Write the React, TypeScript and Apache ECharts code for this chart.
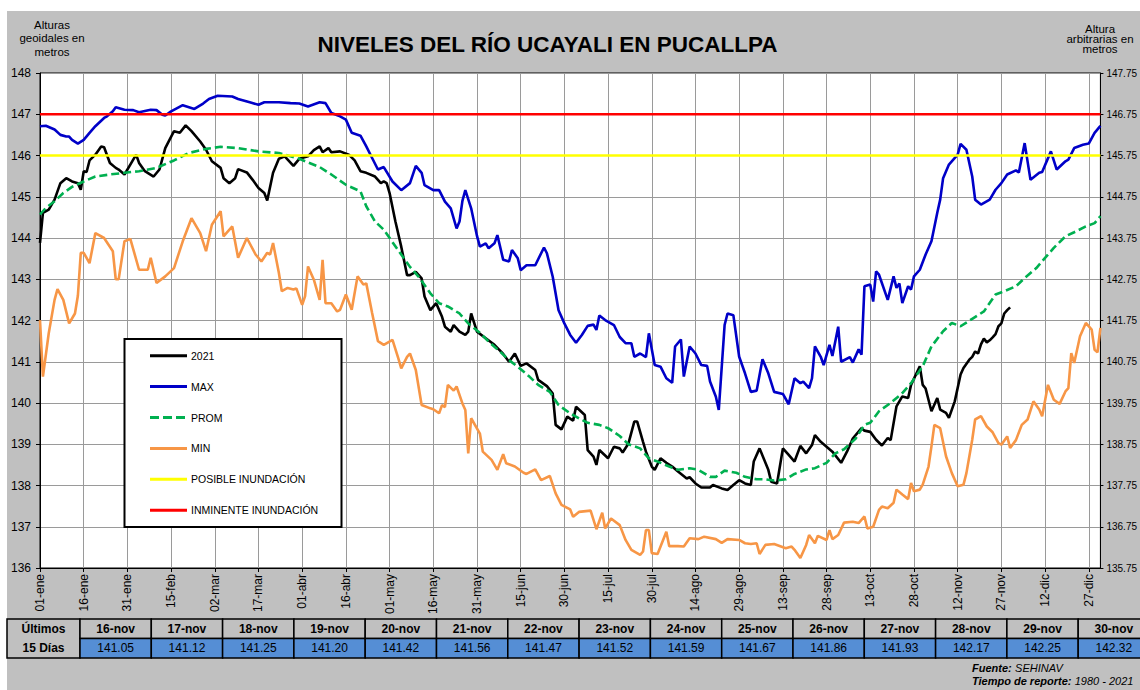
import React, { useEffect, useRef } from "react";
import * as echarts from "echarts";

const FONT = "Arial, 'Liberation Sans', sans-serif";
const MONTHS = ["ene", "feb", "mar", "abr", "may", "jun", "jul", "ago", "sep", "oct", "nov", "dic"];
const YEAR = 2021;
const Y_MIN = 136;
const Y_MAX = 148;
const RIGHT_AXIS_OFFSET = 0.25;
const X_MAX_DAY = 364;
const X_STEP = 15;
const POSIBLE_INUNDACION = 146;
const INMINENTE_INUNDACION = 147;

// [day of year (0 = 01-ene), level]
const serie2021Early: [number, number][] = [
  [0, 143.88], [1, 144.61], [3, 144.69], [5, 144.93], [7, 145.33], [9, 145.45], [11, 145.37], [13, 145.33], [14, 145.17],
  [15, 145.62], [16, 145.6], [17, 145.88], [19, 146.02], [21, 146.22], [22, 146.2], [24, 145.82], [26, 145.7], [27, 145.66],
  [29, 145.54], [31, 145.78], [33, 146.02], [34, 145.82], [36, 145.62], [39, 145.49], [41, 145.66], [43, 146.18], [46, 146.59],
  [48, 146.55], [50, 146.73], [52, 146.59], [55, 146.34], [57, 146.14], [59, 145.86], [62, 145.7], [63, 145.45], [65, 145.33],
  [67, 145.45], [68, 145.67], [71, 145.59], [73, 145.41], [75, 145.21], [77, 145.09], [78, 144.91], [80, 145.58], [82, 145.92],
  [84, 145.98], [87, 145.75], [89, 145.92], [92, 145.98], [94, 146.13], [96, 146.22], [97, 146.08], [99, 146.18], [100, 146.08],
  [103, 146.1], [106, 146.02], [108, 145.88], [110, 145.62], [112, 145.58], [115, 145.49], [117, 145.33], [118, 145.37],
  [119, 145.33], [120, 145.09], [122, 144.4], [124, 143.79], [126, 143.1], [127, 143.1], [129, 143.18], [131, 143.02],
  [132, 142.58], [134, 142.25], [136, 142.42], [138, 142.09], [139, 141.85], [141, 141.73], [142, 141.89], [144, 141.73],
  [146, 141.65], [147, 141.73], [148, 142.17], [150, 141.73], [153, 141.57], [156, 141.41], [159, 141.19], [161, 141.0],
  [163, 141.2], [165, 140.9], [167, 140.96], [170, 140.8], [171, 140.56], [174, 140.41], [176, 140.23], [177, 139.47],
  [179, 139.36], [181, 139.67], [183, 139.57], [184, 139.91], [187, 139.71], [188, 138.86], [190, 138.7], [191, 138.5],
  [192, 138.86], [195, 138.66], [197, 138.94], [199, 138.9], [200, 138.8], [202, 139.02], [204, 139.55], [205, 139.55],
  [207, 139.06], [208, 138.82], [210, 138.46], [211, 138.38], [213, 138.66], [215, 138.55], [217, 138.46], [219, 138.34],
  [222, 138.17], [223, 138.2], [225, 138.05], [227, 137.95], [230, 137.95], [231, 138.01], [234, 137.93], [236, 137.89],
  [238, 138.01], [240, 138.13], [242, 138.05], [244, 138.01], [245, 138.58], [247, 138.9], [250, 138.38], [251, 138.09],
  [253, 138.05], [255, 138.9], [257, 138.74], [259, 138.58], [261, 138.96], [263, 138.78], [265, 138.98], [266, 139.22],
  [268, 139.06], [272, 138.82], [275, 138.55], [277, 138.82], [279, 139.14], [282, 139.39], [283, 139.33], [285, 139.3],
  [287, 139.11], [289, 138.97], [291, 139.15], [292, 139.1], [294, 139.92], [296, 140.16], [298, 140.12], [299, 140.44],
  [302, 140.89], [303, 140.44], [304, 140.35], [306, 139.8], [308, 140.12], [309, 139.84], [311, 139.76], [312, 139.64],
  [314, 140.04], [316, 140.69], [317, 140.85],
];

const last15Labels = ["16-nov", "17-nov", "18-nov", "19-nov", "20-nov", "21-nov", "22-nov", "23-nov", "24-nov", "25-nov", "26-nov", "27-nov", "28-nov", "29-nov", "30-nov"];
const last15Values = [141.05, 141.12, 141.25, 141.2, 141.42, 141.56, 141.47, 141.52, 141.59, 141.67, 141.86, 141.93, 142.17, 142.25, 142.32];
const LAST15_FIRST_DAY = 319;

const serieMax: [number, number][] = [
  [0, 146.71], [2, 146.72], [5, 146.63], [7, 146.5], [9, 146.46], [10, 146.46], [11, 146.38], [13, 146.29], [15, 146.38],
  [17, 146.55], [19, 146.71], [22, 146.91], [23, 146.95], [25, 147.07], [26, 147.17], [29, 147.11], [32, 147.1], [34, 147.05],
  [38, 147.11], [40, 147.1], [42, 146.99], [43, 146.97], [45, 147.07], [49, 147.22], [53, 147.13], [56, 147.26], [58, 147.37],
  [61, 147.45], [66, 147.43], [68, 147.37], [72, 147.29], [75, 147.23], [77, 147.29], [82, 147.29], [86, 147.27], [89, 147.26],
  [92, 147.19], [96, 147.29], [98, 147.27], [100, 147.03], [103, 146.95], [105, 146.87], [107, 146.55], [110, 146.48],
  [112, 146.22], [114, 145.94], [116, 145.66], [118, 145.72], [121, 145.37], [124, 145.16], [127, 145.33], [129, 145.75],
  [131, 145.58], [132, 145.28], [135, 145.16], [137, 145.16], [139, 144.88], [141, 144.72], [143, 144.23], [144, 144.4],
  [145, 144.9], [146, 145.16], [148, 144.72], [150, 144.05], [151, 143.79], [153, 143.87], [154, 143.75], [156, 143.87],
  [157, 144.07], [159, 143.47], [161, 143.43], [162, 143.71], [164, 143.51], [165, 143.22], [167, 143.34], [170, 143.34],
  [173, 143.77], [174, 143.63], [176, 143.06], [178, 142.25], [180, 141.93], [182, 141.65], [184, 141.46], [186, 141.65],
  [188, 141.87], [190, 141.9], [191, 141.77], [192, 142.12], [194, 142.01], [197, 141.89], [199, 141.6], [201, 141.45],
  [203, 141.45], [204, 141.12], [206, 141.2], [208, 141.11], [209, 141.69], [211, 140.92], [213, 140.88], [215, 140.6],
  [217, 140.49], [218, 141.37], [220, 141.54], [221, 140.64], [223, 141.37], [225, 141.2], [227, 140.92], [229, 140.9],
  [230, 140.52], [232, 140.15], [233, 139.83], [235, 141.89], [236, 142.17], [238, 142.13], [240, 141.12], [242, 140.72],
  [244, 140.27], [246, 140.3], [248, 141.06], [250, 140.72], [252, 140.27], [255, 140.22], [257, 139.97], [259, 140.6],
  [261, 140.48], [262, 140.52], [264, 140.36], [265, 140.6], [266, 141.37], [268, 141.12], [269, 140.92], [271, 141.41],
  [272, 141.14], [274, 141.85], [275, 141.0], [278, 141.11], [279, 140.98], [281, 141.3], [282, 141.17], [283, 142.83],
  [285, 142.87], [286, 142.46], [287, 143.19], [288, 143.11], [291, 142.5], [293, 143.07], [294, 142.79], [295, 142.9],
  [296, 142.42], [298, 142.83], [299, 142.75], [300, 143.07], [302, 143.23], [304, 143.6], [306, 143.92], [308, 144.61],
  [309, 144.93], [310, 145.45], [312, 145.78], [315, 146.02], [316, 146.28], [318, 146.14], [320, 145.49], [321, 144.93],
  [323, 144.81], [326, 144.93], [328, 145.17], [330, 145.33], [332, 145.54], [335, 145.64], [336, 145.59], [338, 146.3],
  [340, 145.41], [343, 145.58], [344, 145.6], [347, 146.1], [349, 145.66], [352, 145.86], [353, 145.9], [355, 146.18],
  [358, 146.26], [360, 146.29], [362, 146.55], [364, 146.72],
];

const serieProm: [number, number][] = [
  [0, 144.57], [2, 144.73], [5, 144.89], [8, 145.09], [11, 145.24], [15, 145.37], [19, 145.49], [24, 145.54], [29, 145.58],
  [34, 145.62], [40, 145.7], [46, 145.88], [51, 146.06], [57, 146.16], [62, 146.21], [68, 146.18], [75, 146.1], [82, 146.06],
  [89, 145.92], [96, 145.72], [100, 145.54], [105, 145.29], [110, 145.13], [112, 144.77], [115, 144.4], [118, 144.2],
  [123, 143.7], [127, 143.3], [130, 143.06], [134, 142.66], [137, 142.42], [140, 142.34], [144, 142.17], [147, 141.93],
  [151, 141.7], [154, 141.49], [158, 141.24], [161, 141.04], [164, 140.88], [168, 140.64], [171, 140.44], [175, 140.27],
  [178, 139.95], [182, 139.75], [185, 139.63], [188, 139.52], [192, 139.47], [195, 139.39], [199, 139.2], [202, 139.0],
  [206, 138.9], [209, 138.66], [212, 138.58], [216, 138.46], [219, 138.38], [223, 138.42], [226, 138.38], [230, 138.21],
  [232, 138.21], [235, 138.36], [239, 138.31], [242, 138.21], [246, 138.15], [249, 138.15], [252, 138.12], [256, 138.15],
  [259, 138.28], [263, 138.39], [266, 138.42], [270, 138.55], [273, 138.78], [276, 138.88], [280, 139.14], [283, 139.47],
  [285, 139.52], [288, 139.8], [292, 140.0], [296, 140.24], [299, 140.48], [303, 140.89], [306, 141.37], [310, 141.74],
  [313, 141.94], [316, 141.86], [320, 142.04], [324, 142.22], [328, 142.63], [331, 142.71], [335, 142.83], [338, 143.03],
  [342, 143.27], [345, 143.52], [348, 143.76], [352, 144.04], [355, 144.14], [359, 144.28], [362, 144.36], [364, 144.53],
];

const serieMin: [number, number][] = [
  [0, 142.01], [1, 140.64], [3, 141.69], [5, 142.5], [6, 142.76], [8, 142.5], [10, 141.93], [12, 142.17], [13, 142.6],
  [14, 143.64], [15, 143.64], [17, 143.39], [19, 144.12], [22, 144.0], [25, 143.68], [26, 143.0], [27, 143.0], [29, 143.92],
  [31, 143.98], [34, 143.23], [37, 143.23], [38, 143.52], [40, 142.91], [43, 143.07], [46, 143.27], [49, 143.92], [52, 144.48],
  [55, 144.12], [57, 143.68], [59, 144.32], [62, 144.65], [63, 144.04], [66, 144.28], [68, 143.52], [71, 144.0], [74, 143.6],
  [76, 143.43], [78, 143.64], [79, 143.6], [80, 143.88], [82, 143.15], [83, 142.71], [85, 142.79], [87, 142.75], [88, 142.78],
  [90, 142.38], [91, 142.59], [92, 143.31], [94, 142.99], [96, 142.5], [97, 143.47], [98, 142.42], [100, 142.42], [102, 142.22],
  [103, 142.26], [105, 142.63], [107, 142.26], [109, 143.07], [111, 142.87], [112, 142.9], [114, 142.18], [116, 141.5],
  [118, 141.41], [121, 141.53], [123, 141.08], [124, 140.84], [126, 141.12], [127, 141.2], [129, 140.8], [131, 139.95],
  [134, 139.87], [135, 139.85], [137, 139.75], [138, 139.95], [139, 139.9], [140, 140.44], [142, 140.3], [143, 140.4],
  [145, 139.99], [146, 139.83], [147, 138.78], [148, 139.63], [151, 139.26], [152, 138.82], [155, 138.62], [157, 138.38],
  [159, 138.76], [160, 138.54], [163, 138.46], [166, 138.31], [167, 138.28], [170, 138.39], [172, 138.13], [175, 138.23],
  [177, 137.81], [179, 137.53], [182, 137.42], [183, 137.24], [185, 137.36], [189, 137.39], [191, 136.94], [193, 137.34],
  [194, 136.96], [196, 137.2], [199, 137.04], [201, 136.68], [203, 136.44], [206, 136.32], [207, 136.4], [208, 136.92],
  [209, 136.92], [210, 136.36], [212, 136.34], [215, 136.88], [216, 136.53], [219, 136.53], [221, 136.52], [223, 136.72],
  [226, 136.7], [228, 136.76], [232, 136.7], [234, 136.61], [236, 136.7], [240, 136.68], [242, 136.6], [244, 136.58],
  [246, 136.6], [247, 136.34], [249, 136.56], [252, 136.58], [256, 136.48], [258, 136.52], [259, 136.44], [261, 136.24],
  [263, 136.56], [264, 136.8], [266, 136.6], [267, 136.78], [270, 136.68], [271, 136.92], [272, 136.7], [274, 136.8],
  [276, 137.1], [279, 137.12], [281, 137.09], [283, 137.25], [284, 136.96], [286, 137.0], [288, 137.41], [289, 137.49],
  [291, 137.45], [293, 137.58], [294, 137.9], [296, 137.78], [298, 137.67], [299, 138.06], [300, 137.86], [302, 137.9],
  [303, 138.02], [305, 138.46], [306, 138.95], [307, 139.47], [309, 139.39], [311, 138.71], [313, 138.3], [315, 137.98],
  [317, 138.02], [318, 138.3], [320, 139.11], [321, 139.6], [323, 139.68], [325, 139.43], [327, 139.29], [329, 139.03],
  [330, 138.99], [332, 139.19], [333, 138.91], [335, 139.1], [337, 139.47], [339, 139.6], [341, 140.04], [343, 139.84],
  [344, 139.68], [346, 140.44], [348, 140.08], [350, 139.98], [352, 140.28], [353, 140.36], [354, 141.21], [355, 140.97],
  [357, 141.62], [359, 141.94], [361, 141.78], [362, 141.29], [363, 141.23], [364, 141.82],
];

const SERIES_NAMES = ["2021", "MAX", "PROM", "MIN", "POSIBLE INUNDACIÓN", "INMINENTE INUNDACIÓN"];
const SERIES_COLORS = ["#000000", "#0000C8", "#00B050", "#F79646", "#FFFF00", "#FF0000"];

function dayLabel(v: number): string {
  const d = new Date(Date.UTC(YEAR, 0, 1 + Math.round(v)));
  return String(d.getUTCDate()).padStart(2, "0") + "-" + MONTHS[d.getUTCMonth()];
}

function buildTable(): any[] {
  const els: any[] = [];
  const top = 619;
  const rowH = 19.5;
  const firstX = 7;
  const firstW = 73;
  const colW = 71.3;
  const stroke = { stroke: "#000", lineWidth: 1.5 };
  els.push({ type: "rect", shape: { x: firstX, y: top, width: firstW, height: rowH * 2 }, style: { fill: "#C0C0C0", ...stroke } });
  els.push({ type: "text", x: firstX + firstW / 2, y: top + rowH / 2, style: { text: "Últimos", fill: "#000", font: `bold 12px ${FONT}`, textAlign: "center", textVerticalAlign: "middle" } });
  els.push({ type: "text", x: firstX + firstW / 2, y: top + rowH * 1.5, style: { text: "15 Días", fill: "#000", font: `bold 12px ${FONT}`, textAlign: "center", textVerticalAlign: "middle" } });
  last15Labels.forEach((lab, i) => {
    const x = firstX + firstW + i * colW;
    els.push({ type: "rect", shape: { x, y: top, width: colW, height: rowH }, style: { fill: "#C0C0C0", ...stroke } });
    els.push({ type: "rect", shape: { x, y: top + rowH, width: colW, height: rowH }, style: { fill: "#558ED5", ...stroke } });
    els.push({ type: "text", x: x + colW / 2, y: top + rowH / 2, style: { text: lab, fill: "#000", font: `bold 12px ${FONT}`, textAlign: "center", textVerticalAlign: "middle" } });
    els.push({ type: "text", x: x + colW / 2, y: top + rowH * 1.5, style: { text: last15Values[i].toFixed(2), fill: "#000", font: `12px ${FONT}`, textAlign: "center", textVerticalAlign: "middle" } });
  });
  return els;
}

function buildLegend(): any[] {
  const els: any[] = [];
  els.push({
    type: "rect",
    z: 5,
    shape: { x: 124.5, y: 339, width: 217, height: 188 },
    style: { fill: "#FFFFFF", stroke: "#000", lineWidth: 2 },
  });
  const firstY = 355.7;
  const gap = 30.9;
  SERIES_NAMES.forEach((name, i) => {
    const y = firstY + i * gap;
    els.push({
      type: "line",
      z: 6,
      shape: { x1: 150, y1: y, x2: 187, y2: y },
      style: {
        stroke: SERIES_COLORS[i],
        lineWidth: 3,
        lineDash: name === "PROM" ? [9, 4] : null,
      },
    });
    els.push({
      type: "text",
      z: 6,
      x: 191,
      y,
      style: {
        text: name,
        fill: "#000",
        font: `10.5px ${FONT}`,
        textAlign: "left",
        textVerticalAlign: "middle",
      },
    });
  });
  return els;
}

export default function App() {
  const ref = useRef<HTMLDivElement>(null);

  useEffect(() => {
    if (!ref.current) return;
    const chart = echarts.init(ref.current, null, { renderer: "svg" });

    const serie2021: [number, number][] = serie2021Early.concat(
      last15Values.map((v, i) => [LAST15_FIRST_DAY + i, v] as [number, number])
    );
    const dataSets: [number, number][][] = [
      serie2021,
      serieMax,
      serieProm,
      serieMin,
      [[0, POSIBLE_INUNDACION], [X_MAX_DAY, POSIBLE_INUNDACION]],
      [[0, INMINENTE_INUNDACION], [X_MAX_DAY, INMINENTE_INUNDACION]],
    ];

    const series = SERIES_NAMES.map((name, i) => ({
      name,
      type: "line",
      data: dataSets[i],
      symbol: "none",
      showSymbol: false,
      silent: true,
      yAxisIndex: 0,
      lineStyle: {
        color: SERIES_COLORS[i],
        width: 2.6,
        type: name === "PROM" ? [8, 4] : "solid",
      },
      itemStyle: { color: SERIES_COLORS[i] },
      z: 2,
    }));

    const option: any = {
      animation: false,
      backgroundColor: "transparent",
      textStyle: { fontFamily: FONT },
      grid: {
        left: 40,
        right: 36,
        top: 73,
        bottom: 122,
        show: true,
        backgroundColor: "#FFFFFF",
        borderColor: "#000000",
        borderWidth: 1,
        containLabel: false,
      },
      xAxis: {
        type: "value",
        min: 0,
        max: X_MAX_DAY,
        interval: X_STEP,
        axisLine: { show: true, lineStyle: { color: "#000", width: 1 } },
        axisTick: { show: true, length: 4, lineStyle: { color: "#000" } },
        axisLabel: {
          rotate: 90,
          fontSize: 12,
          color: "#000",
          margin: 6,
          fontFamily: FONT,
          showMaxLabel: false,
          formatter: (v: number) => dayLabel(v),
        },
        splitLine: { show: true, lineStyle: { color: "#9A9A9A", width: 1 } },
      },
      yAxis: [
        {
          type: "value",
          min: Y_MIN,
          max: Y_MAX,
          interval: 1,
          position: "left",
          axisLine: { show: true, lineStyle: { color: "#000", width: 1 } },
          axisTick: { show: true, length: 4, lineStyle: { color: "#000" } },
          axisLabel: { fontSize: 12, color: "#000", margin: 9, fontFamily: FONT },
          splitLine: { show: true, lineStyle: { color: "#9A9A9A", width: 1 } },
        },
        {
          type: "value",
          min: Y_MIN,
          max: Y_MAX,
          interval: 1,
          position: "right",
          axisLine: { show: true, lineStyle: { color: "#000", width: 1 } },
          axisTick: { show: true, length: 3, lineStyle: { color: "#000" } },
          axisLabel: {
            fontSize: 10,
            color: "#000",
            margin: 6,
            fontFamily: FONT,
            formatter: (v: number) => (v - RIGHT_AXIS_OFFSET).toFixed(2),
          },
          splitLine: { show: false },
        },
      ],
      graphic: [
        {
          type: "text",
          x: 547.5,
          y: 44,
          style: {
            text: "NIVELES DEL RÍO UCAYALI EN PUCALLPA",
            fill: "#000",
            font: `bold 22.5px ${FONT}`,
            textAlign: "center",
            textVerticalAlign: "middle",
          },
        },
        {
          type: "text",
          x: 52,
          y: 18,
          style: {
            text: "Alturas\ngeoidales en\nmetros",
            fill: "#000",
            font: `11.5px ${FONT}`,
            lineHeight: 13.6,
            textAlign: "center",
          },
        },
        {
          type: "text",
          x: 1100,
          y: 24,
          style: {
            text: "Altura\narbitrarias en\nmetros",
            fill: "#000",
            font: `11.5px ${FONT}`,
            lineHeight: 10,
            textAlign: "center",
          },
        },
        ...buildLegend(),
        ...buildTable(),
        {
          type: "text",
          x: 972,
          y: 668,
          style: {
            text: "{b|Fuente:} {n|SEHINAV}",
            fill: "#000",
            textVerticalAlign: "middle",
            rich: {
              b: { fontWeight: "bold", fontStyle: "italic", fontSize: 11, fontFamily: FONT },
              n: { fontStyle: "italic", fontSize: 11, fontFamily: FONT },
            },
          },
        },
        {
          type: "text",
          x: 972,
          y: 681,
          style: {
            text: "{b|Tiempo de reporte:} {n|1980 - 2021}",
            fill: "#000",
            textVerticalAlign: "middle",
            rich: {
              b: { fontWeight: "bold", fontStyle: "italic", fontSize: 11, fontFamily: FONT },
              n: { fontStyle: "italic", fontSize: 11, fontFamily: FONT },
            },
          },
        },
      ],
      series,
    };

    chart.setOption(option);
    return () => chart.dispose();
  }, []);

  return (
    <div style={{ position: "fixed", left: 0, top: 0, width: 1140, height: 690, background: "#FFFFFF" }}>
      <div style={{ position: "absolute", left: 7, top: 11, right: 0, bottom: 0, background: "#C0C0C0" }} />
      <div ref={ref} style={{ position: "absolute", left: 0, top: 0, width: 1140, height: 690 }} />
    </div>
  );
}
